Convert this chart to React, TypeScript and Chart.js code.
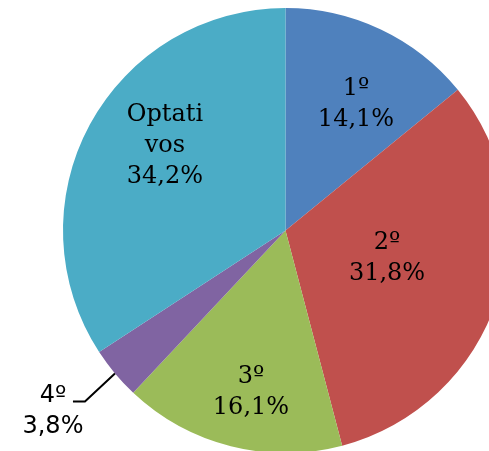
import { useEffect, useRef } from "react";
import { Chart, registerables } from "chart.js";

Chart.register(...registerables);

const categories = ["1º", "2º", "3º", "4º", "Optativos"];
const nameLines = [["1º"], ["2º"], ["3º"], ["4º"], ["Optati", "vos"]];
const values = [14.1, 31.8, 16.1, 3.8, 34.2];
const colors = ["#4F81BD", "#C0504D", "#9BBB59", "#8064A2", "#4BACC6"];

// label placement: radial fraction + pixel nudges (null = outside label with leader)
const labelRadius = 0.65;
const labelNudge = [
  [8.5, 2],
  [-36, -19.7],
  [1, 18.5],
  null,
  [6.6, -18.7],
];

const fmt = (v: number) => v.toFixed(1).replace(".", ",") + "%";

const labelPlugin = {
  id: "sliceLabels",
  afterDatasetsDraw(chart: any) {
    const ctx = chart.ctx;
    const meta = chart.getDatasetMeta(0);
    ctx.save();
    meta.data.forEach((arc: any, i: number) => {
      const p = arc.getProps(["x", "y", "startAngle", "endAngle", "outerRadius"], true);
      const mid = (p.startAngle + p.endAngle) / 2;
      const lines = [...nameLines[i], fmt(values[i])];
      const nudge = labelNudge[i];
      if (nudge) {
        const cx = p.x + Math.cos(mid) * p.outerRadius * labelRadius + nudge[0];
        const cy = p.y + Math.sin(mid) * p.outerRadius * labelRadius + nudge[1];
        ctx.font = "24px 'DejaVu Serif'";
        ctx.fillStyle = "#000";
        ctx.textAlign = "center";
        ctx.textBaseline = "alphabetic";
        const lh = 31;
        lines.forEach((t, j) => {
          ctx.fillText(t, cx, cy + (j - (lines.length - 1) / 2) * lh + 9);
        });
      } else {
        const ex = p.x + Math.cos(mid) * p.outerRadius;
        const ey = p.y + Math.sin(mid) * p.outerRadius;
        const bx = ex - 30;
        const by = ey + 28;
        ctx.strokeStyle = "#000";
        ctx.lineWidth = 2;
        ctx.beginPath();
        ctx.moveTo(ex, ey);
        ctx.lineTo(bx, by);
        ctx.lineTo(bx - 12, by);
        ctx.stroke();
        ctx.font = "24px 'DejaVu Sans'";
        ctx.fillStyle = "#000";
        ctx.textAlign = "center";
        ctx.textBaseline = "alphabetic";
        lines.forEach((t, j) => {
          ctx.fillText(t, bx - 32, by + 1 + j * 31);
        });
      }
    });
    ctx.restore();
  },
};

export default function App() {
  const ref = useRef<HTMLCanvasElement | null>(null);
  useEffect(() => {
    if (!ref.current) return;
    const chart = new Chart(ref.current, {
      type: "pie",
      data: {
        labels: categories,
        datasets: [
          {
            data: values,
            backgroundColor: colors,
            borderWidth: 0,
          },
        ],
      },
      options: {
        responsive: false,
        animation: false,
        layout: { padding: { top: 8, bottom: 8, left: 0, right: 0 } },
        plugins: {
          legend: { display: false },
          tooltip: { enabled: false },
        },
      },
      plugins: [labelPlugin],
    });
    return () => chart.destroy();
  }, []);
  return (
    <div
      style={{
        position: "fixed",
        left: 0,
        top: 0,
        width: 489,
        height: 451,
        overflow: "hidden",
        background: "#fff",
      }}
    >
      <canvas
        ref={ref}
        width={571}
        height={461}
        style={{ position: "absolute", left: 0, top: 0, width: 571, height: 461, display: "block" }}
      />
    </div>
  );
}
